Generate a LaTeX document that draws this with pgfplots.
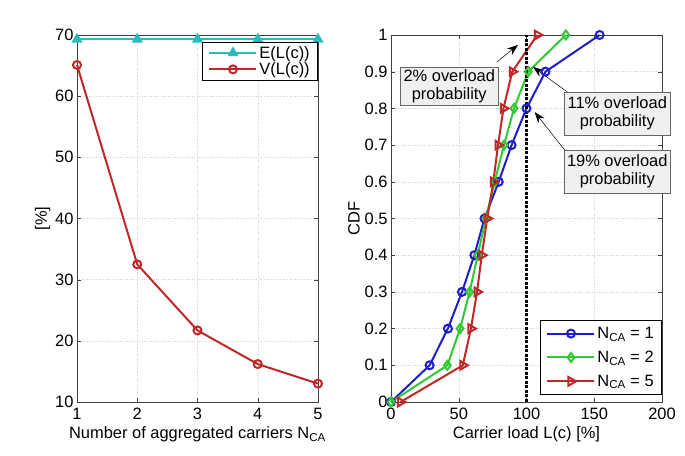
\documentclass[border=0pt]{standalone}
\usepackage{fontspec}
\setmainfont{Liberation Sans}
\usepackage{pgfplots}
\pgfplotsset{compat=1.18}
\usetikzlibrary{arrows.meta}

\definecolor{cyanE}{RGB}{40,188,190}
\definecolor{redV}{RGB}{192,40,40}
\definecolor{blueA}{RGB}{30,30,200}
\definecolor{greenA}{RGB}{50,200,50}
\definecolor{boxgray}{RGB}{240,240,240}

\newcommand{\chartfont}{\fontsize{16.5}{18.5}\selectfont}

\pgfplotsset{
  matlab/.style={
    scale only axis,
    height=367bp,
    /pgf/number format/assume math mode=true,
    tick label style={font=\chartfont},
    label style={font=\chartfont},
    xticklabel style={yshift=-3bp},
    tick align=inside,
    axis line style={black!75},
    tick style={black!75},
    grid=major,
    major grid style={black!18, dotted},
    every axis plot/.append style={line width=2bp},
    legend cell align=left,
    legend style={draw=black, line width=0.6pt, font=\chartfont,
      inner xsep=6bp, inner ysep=2bp, row sep=1bp},
    legend image code/.code={
      \draw[mark repeat=2,mark phase=2] plot coordinates {(0bp,0bp)(23.5bp,0bp)(47bp,0bp)};
    },
    xlabel style={yshift=0bp},
    ylabel style={yshift=-2bp},
  }
}

\begin{document}
\begin{tikzpicture}
\useasboundingbox (0,0) rectangle (685bp,456bp);

% left panel
\begin{axis}[matlab,
  at={(77bp,54bp)}, anchor=south west,
  width=241bp,
  xmin=1, xmax=5, ymin=10, ymax=70,
  xtick={1,2,3,4,5},
  ytick={10,20,30,40,50,60,70},
  xlabel={Number of aggregated carriers N\textsubscript{CA}},
  ylabel={[\%]},
  legend style={at={(1,0.981)}, anchor=north east, row sep=-1bp},
  clip=false,
]
\addplot[color=cyanE, mark=triangle*, mark size=4.5bp, mark options={solid}]
  coordinates {(1,69.3)(2,69.3)(3,69.3)(4,69.3)(5,69.3)};
\addlegendentry{E(L(c))}
\addplot[color=redV, mark=o, mark size=4bp]
  coordinates {(1,65.1)(2,32.5)(3,21.7)(4,16.2)(5,13.0)};
\addlegendentry{V(L(c))}
\end{axis}

% right panel
\begin{axis}[matlab,
  at={(391bp,54bp)}, anchor=south west,
  width=271bp,
  xmin=0, xmax=200, ymin=0, ymax=1,
  xtick={0,50,100,150,200},
  ytick={0,0.1,0.2,0.3,0.4,0.5,0.6,0.7,0.8,0.9,1},
  yticklabel style={/pgf/number format/fixed},
  xlabel={Carrier load L(c) [\%]},
  ylabel={CDF},
  legend style={at={(1,0.019)}, anchor=south east, row sep=7bp, inner ysep=5bp},
  clip=false,
]
\addplot[color=blueA, mark=o, mark size=4bp]
  coordinates {(0,0)(28.5,0.1)(42,0.2)(52.4,0.3)(61.5,0.4)(69,0.5)(79.5,0.6)(89,0.7)(100,0.8)(114,0.9)(154,1)};
\addlegendentry{N\textsubscript{CA} = 1}
\addplot[color=greenA, mark=diamond, mark size=4.5bp]
  coordinates {(0,0)(41.6,0.1)(51,0.2)(58,0.3)(64,0.4)(70,0.5)(76.5,0.6)(83.4,0.7)(90.8,0.8)(101.3,0.9)(129,1)};
\addlegendentry{N\textsubscript{CA} = 2}
\addplot[color=redV, mark=triangle, mark size=5bp, mark options={rotate=-90}]
  coordinates {(7,0)(53,0.1)(59,0.2)(63.5,0.3)(67,0.4)(71,0.5)(75.5,0.6)(79,0.7)(83,0.8)(89.5,0.9)(108,1)};
\addlegendentry{N\textsubscript{CA} = 5}

\addplot[black, line width=2.2bp, dash pattern=on 3bp off 1.5bp, forget plot]
  coordinates {(100,0)(100,1)};

\draw[-{Stealth[length=11bp,width=8bp]}, black, line width=0.5pt]
  (axis cs:78,0.926) -- (axis cs:93.7,0.973);
\draw[-{Stealth[length=11bp,width=8bp]}, black, line width=0.5pt]
  (axis cs:130,0.845) -- (axis cs:104.8,0.913);
\draw[-{Stealth[length=11bp,width=8bp]}, black, line width=0.5pt]
  (axis cs:130,0.678) -- (axis cs:106,0.79);

\node[draw=black!60, fill=boxgray, align=center, inner xsep=3bp, inner ysep=2bp,
  minimum width=95bp, minimum height=38bp, font=\chartfont]
  at (axis cs:43,0.861) {2\% overload\\probability};
\node[draw=black!60, fill=boxgray, align=center, inner xsep=3bp, inner ysep=2bp,
  minimum width=101bp, minimum height=43bp, font=\chartfont]
  at (axis cs:167,0.786) {11\% overload\\probability};
\node[draw=black!60, fill=boxgray, align=center, inner xsep=3bp, inner ysep=2bp,
  minimum width=101bp, minimum height=43bp, font=\chartfont]
  at (axis cs:167,0.628) {19\% overload\\probability};
\end{axis}
\end{tikzpicture}
\end{document}
